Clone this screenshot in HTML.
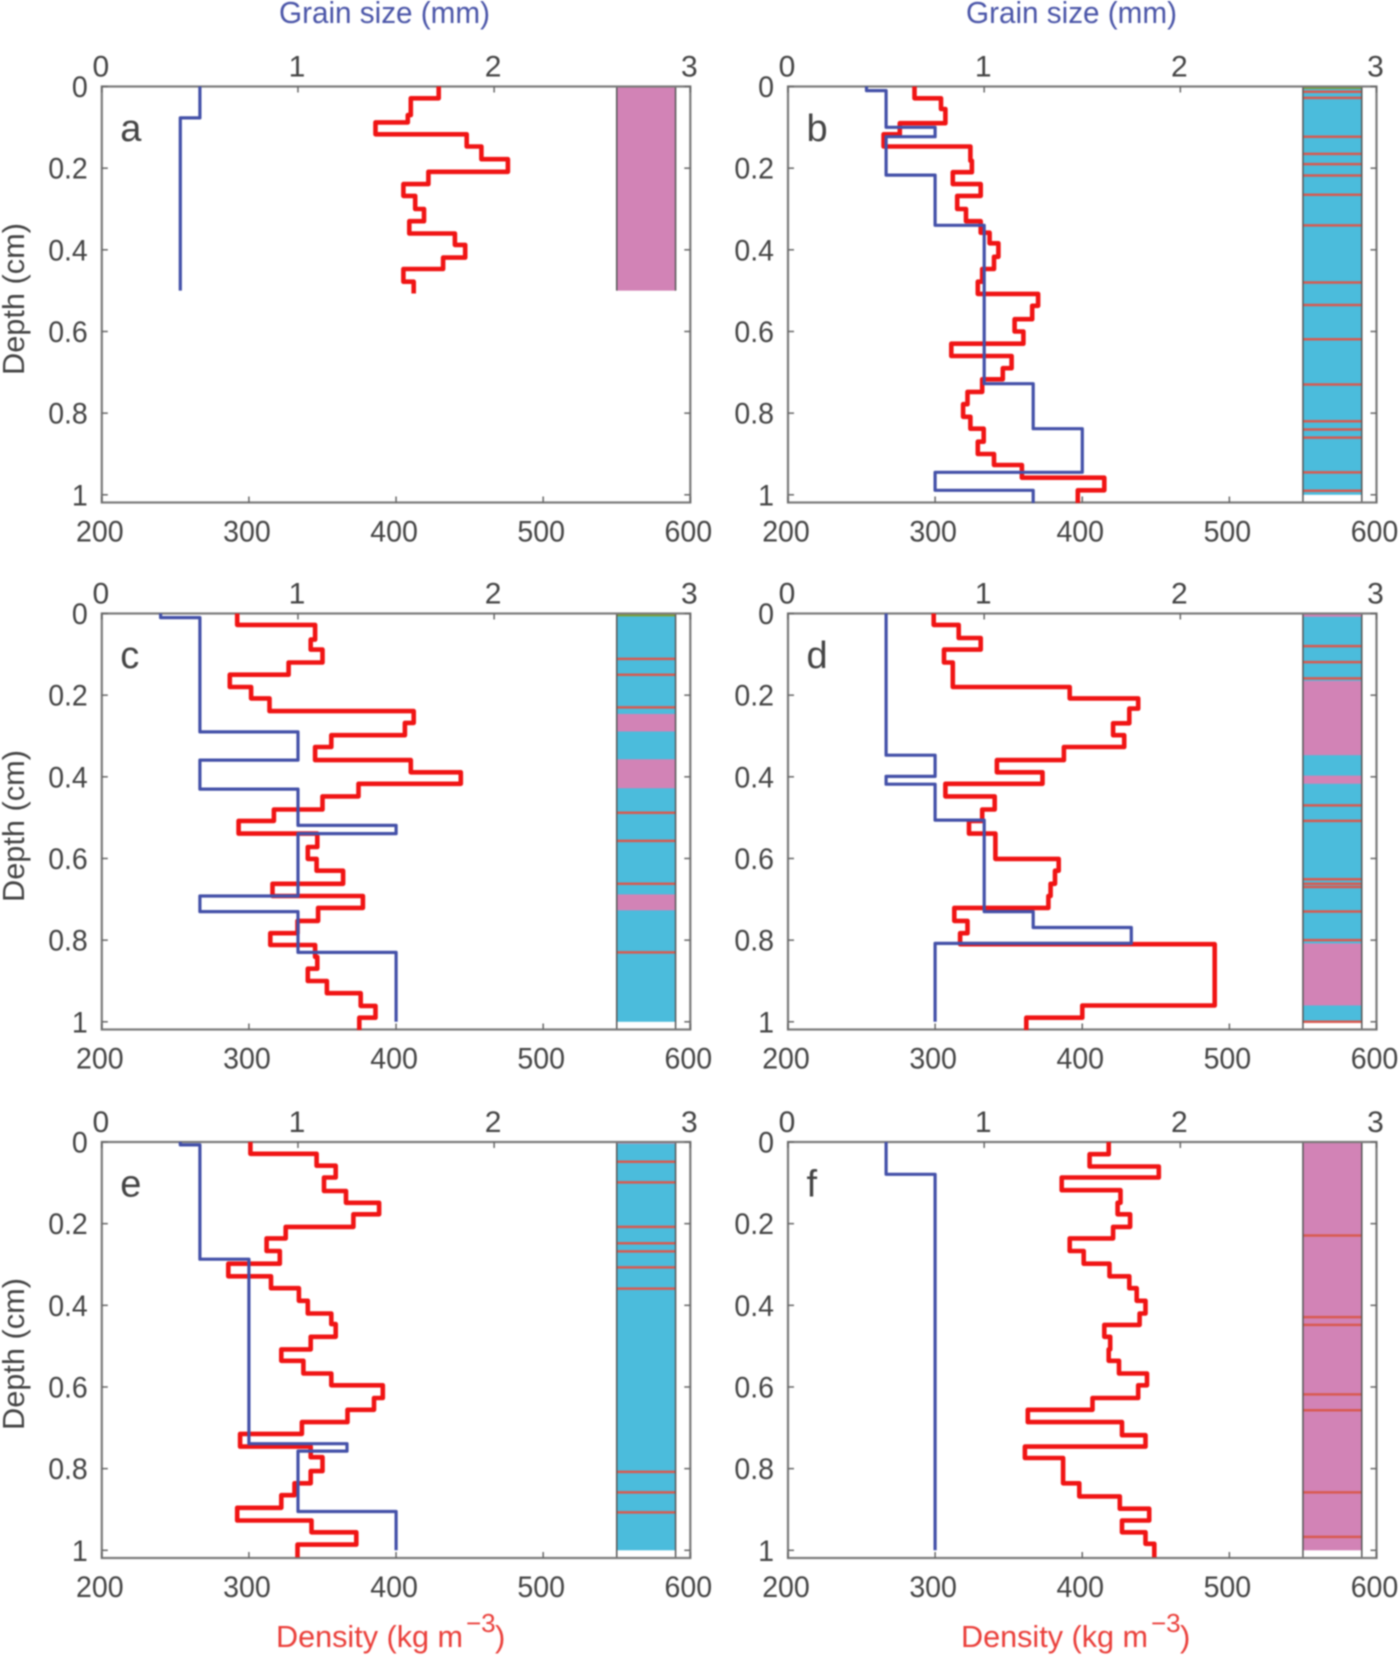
<!DOCTYPE html>
<html lang="en">
<head>
<meta charset="utf-8">
<title>Density and grain size profiles</title>
<style>
html,body{margin:0;padding:0;background:#fff;width:1400px;height:1655px;overflow:hidden}
svg{display:block;filter:blur(0.7px)}
text{font-family:"Liberation Sans",sans-serif}
</style>
</head>
<body>
<svg id="chart" xmlns="http://www.w3.org/2000/svg" width="1400" height="1655" viewBox="0 0 1400 1655">
<rect width="1400" height="1655" fill="#fff"/>
<text x="279" y="23" font-size="31" fill="#4a55a8" textLength="211" lengthAdjust="spacingAndGlyphs">Grain size (mm)</text>
<text x="966" y="23" font-size="31" fill="#4a55a8" textLength="211" lengthAdjust="spacingAndGlyphs">Grain size (mm)</text>
<text transform="translate(24,299) rotate(-90)" text-anchor="middle" font-size="31" fill="#444" textLength="152" lengthAdjust="spacingAndGlyphs">Depth (cm)</text>
<text transform="translate(24,826) rotate(-90)" text-anchor="middle" font-size="31" fill="#444" textLength="152" lengthAdjust="spacingAndGlyphs">Depth (cm)</text>
<text transform="translate(24,1354) rotate(-90)" text-anchor="middle" font-size="31" fill="#444" textLength="152" lengthAdjust="spacingAndGlyphs">Depth (cm)</text>
<g fill="#ea3f3a">
<text x="276" y="1647" font-size="31" textLength="187" lengthAdjust="spacingAndGlyphs">Density (kg m</text>
<text x="466" y="1632" font-size="26">−3</text>
<text x="495" y="1647" font-size="31">)</text>
</g>
<g fill="#ea3f3a">
<text x="961" y="1647" font-size="31" textLength="187" lengthAdjust="spacingAndGlyphs">Density (kg m</text>
<text x="1151" y="1632" font-size="26">−3</text>
<text x="1180" y="1647" font-size="31">)</text>
</g>
</svg>
<script>
const depthTicks = [0, 0.2, 0.4, 0.6, 0.8, 1];
const depthTickLabels = ['0', '0.2', '0.4', '0.6', '0.8', '1'];
const densityTicks = [200, 300, 400, 500, 600];
const grainTicks = [0, 1, 2, 3];

const aDensity = [429,410,408,386,448,458,476,422,405,413,419,409,440,447,432,405,412];
const aDensityDepth = [.029,.07,.088,.117,.147,.178,.209,.239,.268,.30,.33,.36,.388,.419,.447,.478,.507];
const aGrain = [.5,.4];
const aGrainDepth = [.077,.5];
const aMagenta = [[0,.5]];
const aCyan = [];
const aGreen = [];
const aLayerLines = [];

const bDensity = [286,304,307,276,265,324,325,312,331,315,321,331,337,343,340,332,329,370,366,354,360,311,352,346,332,322,319,324,333,329,340,359,415,397];
const bDensityDepth = [.029,.055,.09,.117,.147,.182,.21,.239,.268,.30,.33,.358,.384,.417,.447,.478,.508,.537,.57,.60,.63,.66,.69,.717,.748,.778,.809,.838,.87,.90,.927,.958,.989,1.02];
const bGrain = [.4,.5,.75,.5,.75,1,1.25,1.5,.75,1.25];
const bGrainDepth = [.01,.1,.123,.217,.34,.728,.838,.945,.989,1.02];
const bMagenta = [];
const bCyan = [[0,1]];
const bGreen = [[0,.006]];
const bLayerLines = [.013,.028,.123,.165,.19,.218,.265,.34,.48,.535,.619,.73,.82,.84,.86,.945,.99];

const cDensity = [292,345,342,350,327,287,301.5,314,412,406,356,345,410,444,374.5,350,317,293,346.5,340,346,364,316,377.5,347,333,314.5,345,346.5,340,353,376,386,375];
const cDensityDepth = [.028,.064,.0885,.12,.15,.18,.208,.239,.268,.298,.327,.359,.389,.417,.448,.48,.508,.539,.572,.601,.63,.662,.692,.721,.753,.783,.812,.841,.87,.90,.93,.961,.99,1.02];
const cGrain = [.3,.5,1,.5,1,1.5,1,.5,1,1.5];
const cGrainDepth = [.01,.29,.359,.43,.519,.539,.692,.73,.83,1];
const cMagenta = [[.246,.289],[.357,.428],[.688,.727]];
const cCyan = [[0,1]];
const cGreen = [[0,.007]];
const cLayerLines = [.111,.15,.23,.488,.557,.662,.83];

const dDensity = [299,316,331,306,312,391.5,438,432,421,428.5,387.5,342,373,307,340.5,332,323,341,384,381.5,378.5,377,313,322,317,490,400,362];
const dDensityDepth = [.028,.06,.0885,.12,.18,.208,.233,.269,.298,.327,.359,.389,.417,.448,.48,.508,.539,.601,.63,.662,.692,.721,.753,.783,.81,.96,.99,1.02];
const dGrain = [.5,.75,.5,.75,1,1.25,1.75,.75];
const dGrainDepth = [.347,.399,.418,.506,.73,.769,.808,1];
const dMagenta = [[0,.008],[.165,.347],[.397,.417],[.808,.96]];
const dCyan = [[0,1]];
const dGreen = [];
const dLayerLines = [.08,.119,.159,.47,.508,.651,.662,.67,.73,.8,1];

const eDensity = [301,346,359,351,366,388.5,371,325,312,321,286,315,334,340,356,359,342,322,337,356,391,385,367,336,294,342,350,342,331,322,292,342.5,373,333];
const eDensityDepth = [.029,.058,.087,.12,.149,.177,.208,.236,.267,.298,.329,.358,.389,.42,.446,.477,.508,.536,.567,.596,.627,.656,.686,.715,.746,.772,.806,.836,.865,.896,.927,.956,.986,1.017];
const eGrain = [.4,.5,.75,1.25,1,1.5];
const eGrainDepth = [.007,.287,.739,.757,.905,1];
const eMagenta = [[0,.004]];
const eCyan = [[.004,1]];
const eGreen = [];
const eLayerLines = [.0485,.099,.208,.248,.268,.307,.359,.808,.858,.907];

const fDensity = [418,405,452,386,426,424,432.5,421,391.5,401,418.5,432,437,443,439,415,419,418,425,444,438,407,363,427,443,361,387,398,425.5,445.5,427,443,449];
const fDensityDepth = [.03,.06,.087,.118,.149,.177,.208,.236,.267,.298,.329,.358,.389,.42,.448,.477,.508,.536,.567,.596,.627,.656,.686,.718,.746,.774,.836,.868,.898,.927,.956,.984,1.017];
const fGrain = [.5,.75];
const fGrainDepth = [.079,1];
const fMagenta = [[0,1]];
const fCyan = [];
const fGreen = [];
const fLayerLines = [.229,.429,.448,.618,.657,.858,.967];

const svgNS = 'http://www.w3.org/2000/svg';
const chart = document.getElementById('chart');
const W = 588.5, H = 416, DEPTH_PX = 408.3;
const STRIP_MIN = 550, STRIP_MAX = 590;
const TICK_FONT = 30;
const TICK_SQUEEZE = 0.95;

function make(parent, tag, attrs, txt) {
  const el = document.createElementNS(svgNS, tag);
  for (const k in attrs) el.setAttribute(k, attrs[k]);
  if (txt !== undefined) el.textContent = txt;
  parent.appendChild(el);
  return el;
}

function squeeze(el) {
  const len = el.getComputedTextLength();
  el.setAttribute('textLength', (len * TICK_SQUEEZE).toFixed(1));
  el.setAttribute('lengthAdjust', 'spacingAndGlyphs');
}

function stepPath(values, depths, xFn, yFn) {
  let d = 'M' + xFn(values[0]).toFixed(1) + ' ' + yFn(0).toFixed(1);
  for (let i = 0; i < values.length; i++) {
    d += 'L' + xFn(values[i]).toFixed(1) + ' ' + yFn(depths[i]).toFixed(1);
    if (i + 1 < values.length) d += 'L' + xFn(values[i + 1]).toFixed(1) + ' ' + yFn(depths[i]).toFixed(1);
  }
  return d;
}

function drawPanel(p) {
  const xD = v => p.left + (v - 200) / 400 * W;
  const xG = v => p.left + v / 3 * W;
  const y = v => p.top + v * DEPTH_PX;
  const bottom = p.top + H;
  const right = p.left + W;

  const g = make(chart, 'g', {});
  
  

  const sx = xD(STRIP_MIN), sw = xD(STRIP_MAX) - xD(STRIP_MIN);
  p.cyan.forEach(s => {
    const r = make(g, 'rect', {x: sx, y: y(s[0]), width: sw, height: y(s[1]) - y(s[0]), fill: '#4bbcdc'});
    
    
  });
  p.magenta.forEach(s => {
    const r = make(g, 'rect', {x: sx, y: y(s[0]), width: sw, height: y(s[1]) - y(s[0]), fill: '#d283b6'});
    
    
  });
  p.lines.forEach(v => {
    const l = make(g, 'line', {x1: sx, x2: sx + sw, y1: y(v), y2: y(v), stroke: '#d85a50', 'stroke-width': 2.5});
    
    
  });
  p.green.forEach(s => {
    const r = make(g, 'rect', {x: sx, y: y(s[0]), width: sw, height: y(s[1]) - y(s[0]), fill: '#7f9f30'});
    
    
  });
  const stripEnd = p.stripBottom === undefined ? bottom : y(p.stripBottom);
  [sx, sx + sw].forEach(x => {
    const l = make(g, 'line', {x1: x, x2: x, y1: p.top, y2: stripEnd, stroke: '#555', 'stroke-width': 1.5});
    
    
  });

  const frame = make(g, 'rect', {x: p.left, y: p.top, width: W, height: H, fill: 'none', stroke: '#7a7a7a', 'stroke-width': 2.2});
  
  

  depthTicks.forEach((v, i) => {
    const t1 = make(g, 'line', {x1: p.left, x2: p.left + 6, y1: y(v), y2: y(v), stroke: '#666', 'stroke-width': 1.5});
    
    
    const t2 = make(g, 'line', {x1: right - 6, x2: right, y1: y(v), y2: y(v), stroke: '#666', 'stroke-width': 1.5});
    
    
    const lab = make(g, 'text', {x: p.left - 14, y: y(v) + 10.5, 'text-anchor': 'end', 'font-size': TICK_FONT, fill: '#444'}, depthTickLabels[i]);
    
    
    squeeze(lab);
  });
  densityTicks.forEach(v => {
    const t = make(g, 'line', {x1: xD(v), x2: xD(v), y1: bottom - 6, y2: bottom, stroke: '#666', 'stroke-width': 1.5});
    
    
    const lab = make(g, 'text', {x: xD(v) - 2, y: bottom + 39, 'text-anchor': 'middle', 'font-size': TICK_FONT, fill: '#444'}, String(v));
    
    
    squeeze(lab);
  });
  grainTicks.forEach(v => {
    const t = make(g, 'line', {x1: xG(v), x2: xG(v), y1: p.top, y2: p.top + 6, stroke: '#666', 'stroke-width': 1.5});
    
    
    const lab = make(g, 'text', {x: xG(v) - 1, y: p.top - 10, 'text-anchor': 'middle', 'font-size': TICK_FONT, fill: '#444'}, String(v));
    
    
  });

  const dens = make(g, 'path', {d: stepPath(p.density, p.densityDepth, xD, y), fill: 'none', stroke: '#f01414', 'stroke-width': 4.6, 'stroke-linejoin': 'round'});
  
  
  const grain = make(g, 'path', {d: stepPath(p.grain, p.grainDepth, xG, y), fill: 'none', stroke: '#4350a8', 'stroke-width': 3.2, 'stroke-linejoin': 'round'});
  
  

  const letter = make(g, 'text', {x: p.left + 18.5, y: p.top + 54.5, 'font-size': 38, fill: '#444'}, p.letter);
  
  
}

drawPanel({letter: 'a', left: 101.8, top: 86.5, density: aDensity, densityDepth: aDensityDepth, grain: aGrain, grainDepth: aGrainDepth, magenta: aMagenta, cyan: aCyan, green: aGreen, lines: aLayerLines, stripBottom: .5});
drawPanel({letter: 'b', left: 788, top: 86.5, density: bDensity, densityDepth: bDensityDepth, grain: bGrain, grainDepth: bGrainDepth, magenta: bMagenta, cyan: bCyan, green: bGreen, lines: bLayerLines});
drawPanel({letter: 'c', left: 101.8, top: 613.5, density: cDensity, densityDepth: cDensityDepth, grain: cGrain, grainDepth: cGrainDepth, magenta: cMagenta, cyan: cCyan, green: cGreen, lines: cLayerLines});
drawPanel({letter: 'd', left: 788, top: 613.5, density: dDensity, densityDepth: dDensityDepth, grain: dGrain, grainDepth: dGrainDepth, magenta: dMagenta, cyan: dCyan, green: dGreen, lines: dLayerLines});
drawPanel({letter: 'e', left: 101.8, top: 1142, density: eDensity, densityDepth: eDensityDepth, grain: eGrain, grainDepth: eGrainDepth, magenta: eMagenta, cyan: eCyan, green: eGreen, lines: eLayerLines});
drawPanel({letter: 'f', left: 788, top: 1142, density: fDensity, densityDepth: fDensityDepth, grain: fGrain, grainDepth: fGrainDepth, magenta: fMagenta, cyan: fCyan, green: fGreen, lines: fLayerLines});
</script>
</body>
</html>
